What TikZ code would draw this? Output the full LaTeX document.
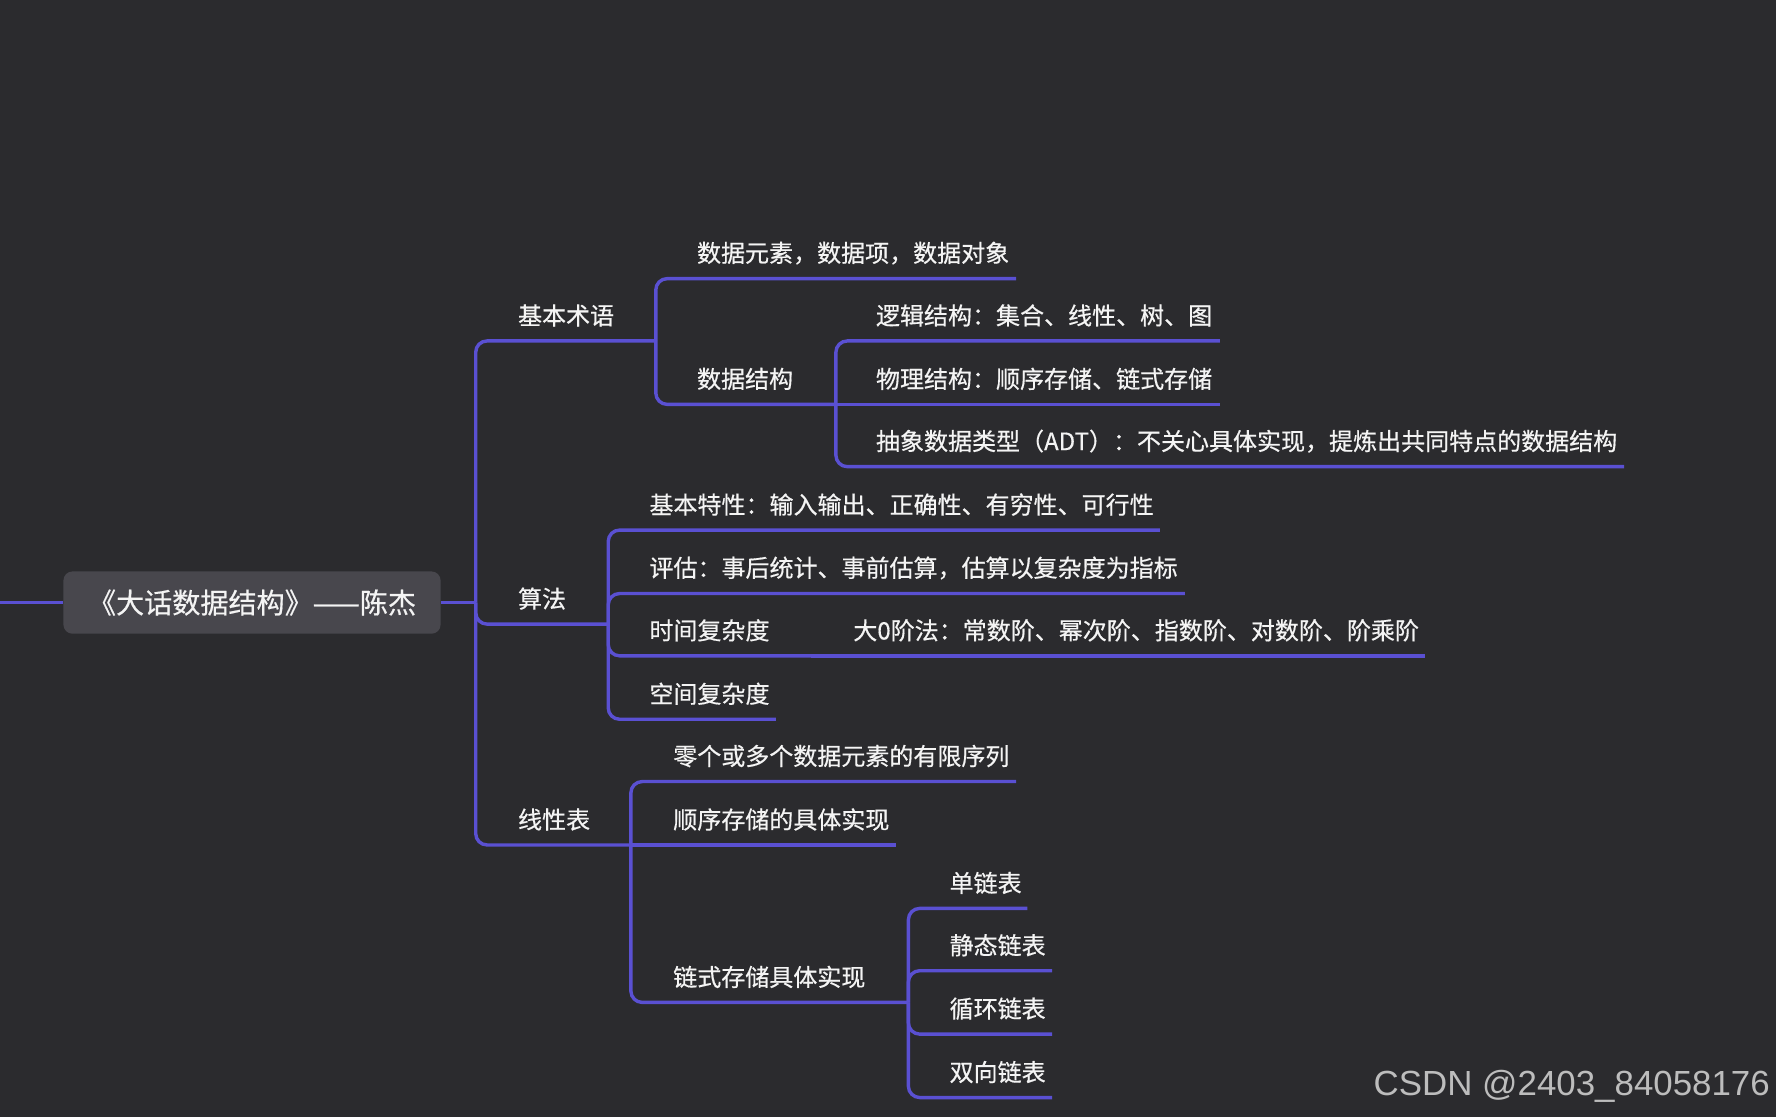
\documentclass[tikz,border=0pt]{standalone}
\usepackage{fontspec}
\usepackage{tikz}
\setmainfont{Noto Sans CJK SC}[FakeBold=0.5]
\newfontfamily\markfont{Liberation Sans}
\definecolor{mmBack}{HTML}{2B2B2E}
\definecolor{mmLink}{HTML}{5A50D2}
\definecolor{mmRoot}{HTML}{48474D}
\definecolor{mmInk}{HTML}{F4F4F4}
\definecolor{mmMark}{HTML}{BDBDBD}
\tikzset{
  mm map/.style={x=0.5pt, y=-0.5pt, text=mmInk},
  mm root/.style={fill=mmRoot, rounded corners=4pt, minimum width=166.5pt,
    minimum height=27.5pt, inner sep=0pt, font=\fontsize{12.4pt}{15pt}\selectfont},
  mm topic/.style={anchor=west, inner sep=0pt, font=\fontsize{10.6pt}{13pt}\selectfont},
  mm link/.style={draw=mmLink, line width=1.5pt, rounded corners=5pt},
  mm mark/.style={anchor=east, inner sep=0pt, text=mmMark,
    font=\markfont\fontsize{15.4pt}{18pt}\selectfont}
}

\begin{document}
\begin{tikzpicture}[mm map]
\useasboundingbox (0,0) rectangle (1568,986);
\fill[mmBack] (0,0) rectangle (1568,986);
% centre topic
\node[mm root] (root) at (222.5,532) {《大话数据结构》——陈杰};
\coordinate (edge) at (0,532);
\coordinate (hub) at (420,532);
\draw[mm link] (edge) -- (root.west);
\draw[mm link] (root.east) -- (hub);
% first level
\foreach \name/\y/\ux/\txt in {shuyu/301/579/基本术语, suanfa/551/537/算法, xianxing/746/557/线性表}{
  \node[mm topic] (\name) at (457,\y-22.5) {\txt};
  \coordinate (\name-u) at (\ux,\y);
  \draw[mm link] (hub) |- (\name-u);
}
% basic terms
\foreach \name/\y/\ux/\txt in {yuansu/246/897/{数据元素，数据项，数据对象}, jiegou/357/738/{数据结构}}{
  \node[mm topic] (\name) at (615,\y-22.5) {\txt};
  \coordinate (\name-u) at (\ux,\y);
  \draw[mm link] (shuyu-u) |- (\name-u);
}
% data structure
\foreach \name/\y/\ux/\txt in {luoji/301/1077/{逻辑结构：集合、线性、树、图}, wuli/357/1077/{物理结构：顺序存储、链式存储}, adt/412/1434/{抽象数据类型（ADT）：不关心具体实现，提炼出共同特点的数据结构}}{
  \node[mm topic] (\name) at (773,\y-22.5) {\txt};
  \coordinate (\name-u) at (\ux,\y);
}
\draw[mm link] (jiegou-u) |- (luoji-u);
\draw[mm link] (jiegou-u) -- (wuli-u);
\draw[mm link] (jiegou-u) |- (adt-u);
% algorithm
\foreach \name/\y/\ux/\txt in {texing/468/1024/{基本特性：输入输出、正确性、有穷性、可行性}, pinggu/524/1046/{评估：事后统计、事前估算，估算以复杂度为指标}, shijian/579/716/{时间复杂度}, kongjian/635/685/{空间复杂度}}{
  \node[mm topic] (\name) at (573,\y-22.5) {\txt};
  \coordinate (\name-u) at (\ux,\y);
  \draw[mm link] (suanfa-u) |- (\name-u);
}
\node[mm topic] (dao) at (753,556.5) {大0阶法：常数阶、幂次阶、指数阶、对数阶、阶乘阶};
\coordinate (dao-u) at (1258,579);
\draw[mm link] (shijian-u) -- (dao-u);
% linear list
\foreach \name/\y/\ux/\txt in {youxian/690/897/{零个或多个数据元素的有限序列}, shunxu/746/791/{顺序存储的具体实现}, lianshi/885/802/{链式存储具体实现}}{
  \node[mm topic] (\name) at (594,\y-22.5) {\txt};
  \coordinate (\name-u) at (\ux,\y);
}
\draw[mm link] (xianxing-u) |- (youxian-u);
\draw[mm link] (xianxing-u) -- (shunxu-u);
\draw[mm link] (xianxing-u) |- (lianshi-u);
% linked storage
\foreach \name/\y/\ux/\txt in {dan/802/907/{单链表}, jingtai/857/929/{静态链表}, xunhuan/913/929/{循环链表}, shuang/969/929/{双向链表}}{
  \node[mm topic] (\name) at (838,\y-22.5) {\txt};
  \coordinate (\name-u) at (\ux,\y);
  \draw[mm link] (lianshi-u) |- (\name-u);
}
\node[mm mark] (mark) at (1563,959) {CSDN @2403\_84058176};
\end{tikzpicture}
\end{document}
